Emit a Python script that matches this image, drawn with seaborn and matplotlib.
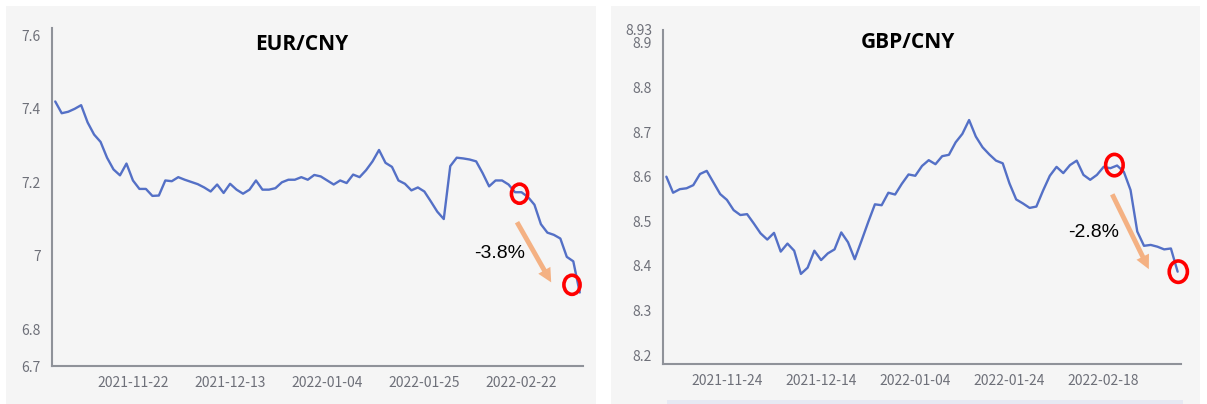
import matplotlib
matplotlib.use("Agg")
import matplotlib.pyplot as plt
from matplotlib.patches import Ellipse, Rectangle, FancyArrowPatch
import numpy as np
import pandas as pd
import seaborn as sns

# trading days (CFETS holidays removed)
holidays = ["2022-01-03", "2022-01-31", "2022-02-01", "2022-02-02", "2022-02-03", "2022-02-04"]
eur_dates = pd.bdate_range("2021-11-04", "2022-03-07", freq="C", holidays=holidays)
gbp_dates = pd.bdate_range("2021-11-11", "2022-03-07", freq="C", holidays=holidays)

eur_values = [7.420, 7.388, 7.392, 7.400, 7.410, 7.363, 7.330, 7.310, 7.267, 7.235,
              7.219, 7.251, 7.205, 7.182, 7.182, 7.163, 7.164, 7.205, 7.203, 7.214,
              7.207, 7.201, 7.195, 7.186, 7.175, 7.194, 7.171, 7.196, 7.180, 7.169,
              7.180, 7.205, 7.180, 7.180, 7.184, 7.200, 7.207, 7.207, 7.214, 7.207,
              7.220, 7.216, 7.205, 7.194, 7.205, 7.198, 7.221, 7.214, 7.233, 7.257,
              7.288, 7.253, 7.242, 7.205, 7.196, 7.178, 7.186, 7.175, 7.148, 7.120,
              7.100, 7.244, 7.267, 7.265, 7.262, 7.257, 7.225, 7.189, 7.205, 7.205,
              7.194, 7.173, 7.173, 7.160, 7.139, 7.086, 7.063, 7.057, 7.047, 6.997,
              6.985, 6.900]

gbp_values = [8.600, 8.564, 8.572, 8.574, 8.581, 8.606, 8.613, 8.587, 8.561, 8.548,
              8.525, 8.514, 8.516, 8.495, 8.473, 8.459, 8.474, 8.432, 8.450, 8.434,
              8.382, 8.396, 8.434, 8.413, 8.428, 8.437, 8.475, 8.453, 8.415, 8.456,
              8.498, 8.538, 8.536, 8.564, 8.560, 8.584, 8.605, 8.602, 8.624, 8.637,
              8.628, 8.646, 8.649, 8.677, 8.696, 8.727, 8.690, 8.666, 8.650, 8.636,
              8.630, 8.585, 8.549, 8.540, 8.530, 8.533, 8.569, 8.602, 8.622, 8.608,
              8.626, 8.636, 8.604, 8.593, 8.604, 8.622, 8.619, 8.625, 8.611, 8.570,
              8.477, 8.445, 8.447, 8.443, 8.437, 8.439, 8.387]

eur_ticks = ["2021-11-22", "2021-12-13", "2022-01-04", "2022-01-25", "2022-02-22"]
gbp_ticks = ["2021-11-24", "2021-12-14", "2022-01-04", "2022-01-24", "2022-02-18"]

eur_yticks = [6.7, 6.8, 7.0, 7.2, 7.4, 7.6]
eur_ylabels = ["6.7", "6.8", "7", "7.2", "7.4", "7.6"]
gbp_yticks = [8.2, 8.3, 8.4, 8.5, 8.6, 8.7, 8.8, 8.9, 8.93]
gbp_ylabels = ["8.2", "8.3", "8.4", "8.5", "8.6", "8.7", "8.8", "8.9", "8.93"]

sns.set_theme(style="white")
plt.rcParams["font.family"] = ["Noto Sans CJK SC", "DejaVu Sans"]

W, H = 1207, 404
fig = plt.figure(figsize=(W / 100, H / 100), dpi=100)
fig.patch.set_facecolor("white")

# panel backgrounds (behind the axes)
fig.patches.append(Rectangle((6 / W, 0), 590 / W, 398 / H, transform=fig.transFigure,
                             facecolor="#f5f5f5", edgecolor="none", zorder=-10))
fig.patches.append(Rectangle((611 / W, 0), 589 / W, 398 / H, transform=fig.transFigure,
                             facecolor="#f5f5f5", edgecolor="none", zorder=-10))
# data zoom strip under right chart
fig.patches.append(Rectangle((667 / W, 0), 516 / W, 4 / H, transform=fig.transFigure,
                             facecolor="#e6e9f3", edgecolor="none", zorder=-9))

line_color = "#5470c6"
axis_color = "#8f9299"
label_color = "#6e7079"


def draw_panel(ax, dates, values, ticks, yticks, ylabels, ylim):
    n = len(values)
    df = pd.DataFrame({"idx": np.arange(n), "value": values})
    sns.lineplot(data=df, x="idx", y="value", ax=ax, color=line_color, linewidth=1.7)
    ax.set_facecolor("none")
    ax.set_xlim(-0.5, n - 0.5)
    ax.set_ylim(*ylim)
    date_str = [d.strftime("%Y-%m-%d") for d in dates]
    pos = [date_str.index(t) for t in ticks]
    ax.set_xticks(pos)
    ax.set_xticklabels(ticks)
    ax.set_xticks([p - 0.5 for p in pos] + [n - 0.5], minor=True)
    ax.tick_params(axis="x", which="major", length=0, pad=7, labelsize=10, labelcolor=label_color)
    ax.tick_params(axis="x", which="minor", length=5, width=1.2, color=axis_color, direction="out")
    ax.set_yticks(yticks)
    ax.set_yticklabels(ylabels)
    ax.tick_params(axis="y", length=0, pad=8, labelsize=10, labelcolor=label_color)
    for side in ["top", "right"]:
        ax.spines[side].set_visible(False)
    for side in ["left", "bottom"]:
        ax.spines[side].set_color(axis_color)
        ax.spines[side].set_linewidth(1.5)
    ax.set_xlabel("")
    ax.set_ylabel("")
    ax.grid(False)


ax1 = fig.add_axes([52 / W, 1 - 366 / H, 531 / W, 338 / H])
draw_panel(ax1, eur_dates, eur_values, eur_ticks, eur_yticks, eur_ylabels, (6.7, 7.62))

ax2 = fig.add_axes([663 / W, 1 - 364 / H, 518 / W, 334.5 / H])
draw_panel(ax2, gbp_dates, gbp_values, gbp_ticks, gbp_yticks, gbp_ylabels, (8.18, 8.93))

# titles
fig.text(302 / W, 1 - 45 / H, "EUR/CNY", ha="center", va="center", fontsize=15,
         fontweight="bold", family=["Open Sans", "DejaVu Sans"], color="black")
fig.text(908 / W, 1 - 43 / H, "GBP/CNY", ha="center", va="center", fontsize=15,
         fontweight="bold", family=["Open Sans", "DejaVu Sans"], color="black")

# annotations: circles, arrow, change
arrow_color = "#f4b183"
for ax, circles, start, tip, txt_pos, txt in [
    (ax1, [(71.7, 7.169, 2.5, 0.052), (79.8, 6.921, 2.5, 0.052)],
     (71.1, 7.098), (76.8, 6.921), (68.6, 7.005), "-3.8%"),
    (ax2, [(66.6, 8.626, 2.6, 0.048), (76.1, 8.387, 2.7, 0.048)],
     (66.1, 8.566), (71.9, 8.387), (63.5, 8.474), "-2.8%"),
]:
    for cx, cy, w, h in circles:
        ax.add_patch(Ellipse((cx, cy), w, h, facecolor="none", edgecolor="red",
                             linewidth=2.6, zorder=5, clip_on=False))
    ax.add_patch(FancyArrowPatch(start, tip,
                                 arrowstyle="simple,head_length=1.0,head_width=1.0,tail_width=0.35",
                                 mutation_scale=10, color=arrow_color, linewidth=0, zorder=4))
    ax.text(txt_pos[0], txt_pos[1], txt, ha="center", va="center", fontsize=14,
            family=["Liberation Sans", "DejaVu Sans"], color="black", zorder=6)

fig.savefig("out.png", dpi=100, facecolor=fig.get_facecolor())
